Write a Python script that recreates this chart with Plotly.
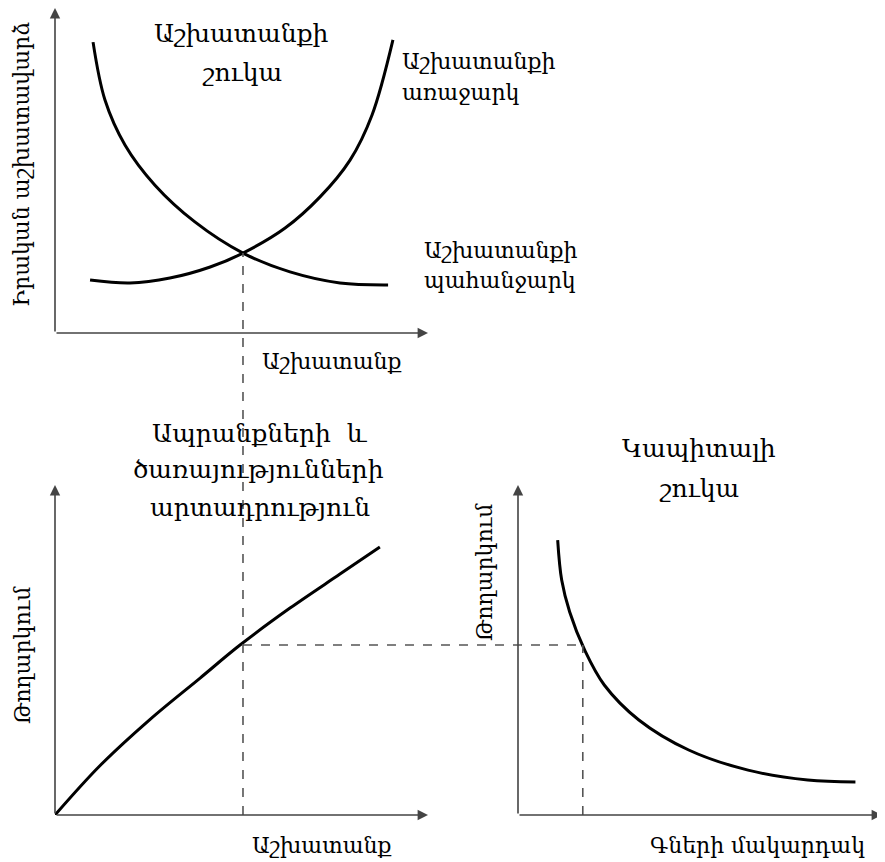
import plotly.graph_objects as go

W, H = 885, 862

# ---------------- data (arbitrary units 0..10) ----------------
# Top panel: labour market
demand_x = [1.02, 1.34, 1.88, 2.68, 3.75, 5.04, 6.30, 7.64, 8.93]
demand_y = [8.95, 7.17, 5.78, 4.55, 3.42, 2.46, 1.88, 1.54, 1.48]
supply_x = [0.94, 2.01, 3.08, 4.16, 5.04, 6.17, 7.10, 7.91, 8.50, 9.06]
supply_y = [1.63, 1.54, 1.69, 2.03, 2.46, 3.23, 4.18, 5.32, 6.71, 9.02]
L_star, W_star = 5.04, 2.46

# Bottom-left: production of goods and services
prod_x = [0.0, 1.21, 2.55, 3.89, 4.96, 6.30, 7.64, 8.71]
prod_y = [0.0, 1.50, 2.90, 4.15, 5.15, 6.27, 7.30, 8.12]
Y_star = 5.15

# Bottom-right: capital market
cap_x = [1.09, 1.20, 1.42, 1.83, 2.37, 3.32, 4.69, 6.32, 7.96, 9.27]
cap_y = [8.33, 7.12, 6.15, 5.00, 3.94, 2.88, 1.97, 1.36, 1.06, 1.00]
P_star = 1.78

# ---------------- texts ----------------
t_top_title = ["Աշխատանքի", "շուկա"]
t_supply = ["Աշխատանքի", "առաջարկ"]
t_demand = ["Աշխատանքի", "պահանջարկ"]
t_wage = "Իրական աշխատավարձ"
t_labour = "Աշխատանք"
t_prod_title = ["Ապրանքների  և", "ծառայությունների", "արտադրություն"]
t_output = "Թողարկում"
t_cap_title = ["Կապիտալի", "շուկա"]
t_price = "Գների մակարդակ"

# ---------------- layout helpers (screen pixel -> paper; page body has an 8px margin) ----------------
OFF = 8

def px(x):
    return (x - OFF) / W

def py(y):
    return 1 - (y - OFF) / H

RANGE = [0, 10]
dom = {
    "x": [px(55), px(428)], "y": [py(333), py(8)],
    "x2": [px(55), px(428)], "y2": [py(815), py(485)],
    "x3": [px(518), px(882)], "y3": [py(815), py(485)],
}

def to_paper(v, d):
    return d[0] + (v - RANGE[0]) / (RANGE[1] - RANGE[0]) * (d[1] - d[0])

FONT = "DejaVu Serif"
fig = go.Figure()
line_style = dict(color="black", width=3, shape="spline", smoothing=1.0)
fig.add_trace(go.Scatter(x=demand_x, y=demand_y, mode="lines", line=line_style, xaxis="x", yaxis="y"))
fig.add_trace(go.Scatter(x=supply_x, y=supply_y, mode="lines", line=line_style, xaxis="x", yaxis="y"))
fig.add_trace(go.Scatter(x=prod_x, y=prod_y, mode="lines", line=line_style, xaxis="x2", yaxis="y2"))
fig.add_trace(go.Scatter(x=cap_x, y=cap_y, mode="lines", line=line_style, xaxis="x3", yaxis="y3"))

ax_common = dict(range=RANGE, showgrid=False, zeroline=False, showticklabels=False,
                 ticks="", showline=False, fixedrange=True)
fig.update_layout(
    width=W, height=H, margin=dict(l=0, r=0, t=0, b=0),
    paper_bgcolor="white", plot_bgcolor="rgba(0,0,0,0)", showlegend=False,
    xaxis=dict(domain=dom["x"], anchor="y", **ax_common),
    yaxis=dict(domain=dom["y"], anchor="x", **ax_common),
    xaxis2=dict(domain=dom["x2"], anchor="y2", **ax_common),
    yaxis2=dict(domain=dom["y2"], anchor="x2", **ax_common),
    xaxis3=dict(domain=dom["x3"], anchor="y3", **ax_common),
    yaxis3=dict(domain=dom["y3"], anchor="x3", **ax_common),
)

# axes drawn as arrows
AX_COL = "#444"
for xr, yr in [("x", "y"), ("x2", "y2"), ("x3", "y3")]:
    for tip, tail in [((RANGE[1], 0), (0, 0)), ((0, RANGE[1]), (0, 0))]:
        fig.add_annotation(x=tip[0], y=tip[1], ax=tail[0], ay=tail[1], xref=xr, yref=yr,
                           axref=xr, ayref=yr, text="", showarrow=True, arrowhead=2,
                           arrowsize=1.3, arrowwidth=1.6, arrowcolor=AX_COL)

DASH = dict(color="#555", width=1.6, dash="dash")
# vertical dashed line from labour-market equilibrium down to the production axis
fig.add_shape(type="line", xref="x", yref="paper", x0=L_star, x1=L_star,
              y0=to_paper(0, dom["y2"]), y1=to_paper(W_star, dom["y"]), line=DASH)
# horizontal dashed line from production curve to capital-market curve
fig.add_shape(type="line", xref="paper", yref="y2",
              x0=to_paper(L_star, dom["x2"]), x1=to_paper(P_star, dom["x3"]),
              y0=Y_star, y1=Y_star, line=DASH)
# vertical dashed line in capital market
fig.add_shape(type="line", xref="x3", yref="y3", x0=P_star, x1=P_star, y0=0, y1=Y_star, line=DASH)

def text(t, x, y, size=22, angle=0, xanchor="center"):
    fig.add_annotation(text=t, x=px(x), y=py(y), xref="paper", yref="paper", showarrow=False,
                       xanchor=xanchor, yanchor="middle", textangle=angle,
                       font=dict(family=FONT, size=size, color="black"))

TS = 25
LS = 22
text(t_top_title[0], 241, 33, TS)
text(t_top_title[1], 242, 72, TS)
text(t_supply[0], 400, 62, LS, xanchor="left")
text(t_supply[1], 400, 92, LS, xanchor="left")
text(t_demand[0], 422, 251, LS, xanchor="left")
text(t_demand[1], 422, 281, LS, xanchor="left")
text(t_wage, 22, 165, LS, angle=-90)
text(t_labour, 332, 362, LS)
text(t_prod_title[0], 260, 433, TS)
text(t_prod_title[1], 258, 469, TS)
text(t_prod_title[2], 260, 507, TS)
text(t_output, 22, 655, LS, angle=-90)
text(t_cap_title[0], 699, 448, TS)
text(t_cap_title[1], 699, 488, TS)
text(t_output, 484, 572, LS, angle=-90)
text(t_labour, 322, 845, LS)
text(t_price, 757, 845, LS)

fig.write_html("out.html")
